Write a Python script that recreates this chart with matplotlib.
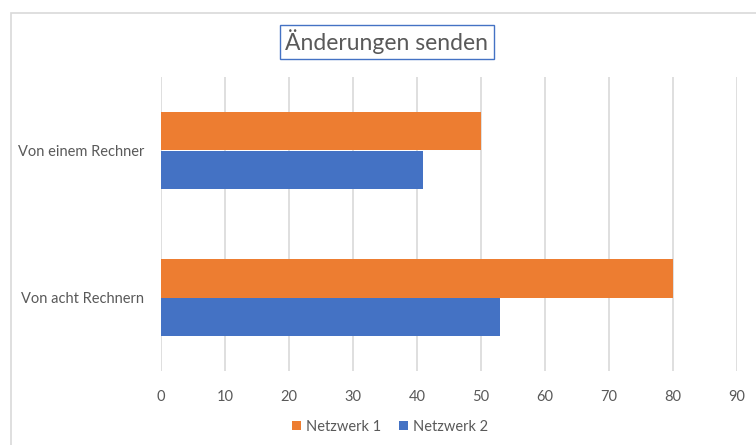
import matplotlib.pyplot as plt
from matplotlib.patches import Rectangle
import numpy as np

# data
categories = ["Von einem Rechner", "Von acht Rechnern"]
netzwerk1 = [50, 80]
netzwerk2 = [41, 53]
series_names = ["Netzwerk 1", "Netzwerk 2"]
x_ticks = [0, 10, 20, 30, 40, 50, 60, 70, 80, 90]

orange = "#ED7D31"
blue = "#4472C4"
text_col = "#595959"
grid_col = "#D9D9D9"

plt.rcParams['font.family'] = ['Lato', 'DejaVu Sans']

fig = plt.figure(figsize=(7.56, 4.45), dpi=100)
ax = fig.add_axes([161 / 756, 1 - 371 / 445, 576 / 756, 294 / 445])

# outer chart border (left/top visible, rest runs off the image)
fig.patches.append(Rectangle((11 / 756, -0.1), 1.2, 1 - 13 / 445 + 0.1,
                             transform=fig.transFigure, fill=False,
                             edgecolor=grid_col, linewidth=1.2))

y = np.arange(len(categories))
h = 0.26
ax.barh(y - h / 2, netzwerk1, height=h, color=orange, label=series_names[0], zorder=3)
ax.barh(y + h / 2, netzwerk2, height=h, color=blue, label=series_names[1], zorder=3)

ax.set_xlim(0, 90)
ax.set_ylim(len(categories) - 0.5, -0.5)
ax.set_xticks(x_ticks)
ax.set_yticks(y)
ax.set_yticklabels(categories)
ax.tick_params(axis='both', length=0, labelsize=10.5, colors=text_col)
ax.tick_params(axis='x', pad=14)
ax.tick_params(axis='y', pad=12)
ax.grid(axis='x', color=grid_col, linewidth=1.2, zorder=0)
for s in ax.spines.values():
    s.set_visible(False)

fig.text(387 / 756, 1 - 42 / 445, "Änderungen senden", ha='center', va='center',
         fontsize=16.5, color=text_col,
         bbox=dict(boxstyle='square,pad=0.22', facecolor='white', edgecolor=blue, linewidth=1))

fig.legend(loc='center', bbox_to_anchor=(390 / 756, 1 - 427 / 445), ncol=2,
           frameon=False, fontsize=10.5, labelcolor=text_col,
           handlelength=0.6, handleheight=0.6, handletextpad=0.35, columnspacing=1.2)

fig.savefig("out.png", dpi=100)
